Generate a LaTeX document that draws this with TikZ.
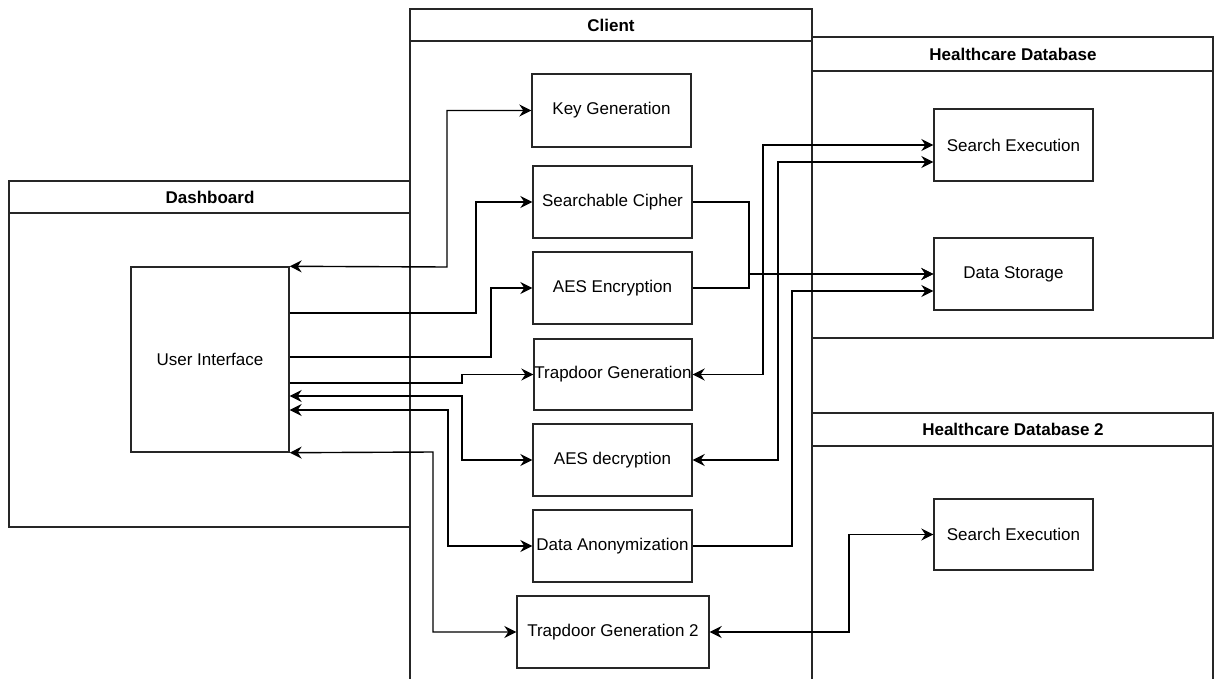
\documentclass[tikz,border=0pt]{standalone}
\usepackage{fontspec}
\setmainfont{Liberation Sans}
\usetikzlibrary{arrows.meta,calc}
\begin{document}
\begin{tikzpicture}[x=1pt,y=-1pt,
  line width=1.4pt,
  >={Stealth[length=12pt,width=12pt,inset=4pt]},
  lane/.style={draw=black!85,line width=1.4pt},
  box/.style={draw=black!85,line width=1.4pt,inner sep=0pt,font=\fontsize{17}{20}\selectfont},
  hdr/.style={font=\bfseries\fontsize{17}{20}\selectfont},
  conn/.style={draw=black,line width=1.4pt,->},
  bconn/.style={draw=black,line width=1.4pt,<->}
]
\useasboundingbox (0,0) rectangle (1214,679);
\begin{scope}
\clip (0,0) rectangle (1214,679);
% swimlanes
\draw[lane] (9,181) rectangle (410,527);
\draw[lane] (9,213) -- (410,213);
\node[hdr] (dashhdr) at (210,197) {Dashboard};

\draw[lane] (410,9) rectangle (812,720);
\draw[lane] (410,41) -- (812,41);
\node[hdr] (clienthdr) at (611,25) {Client};

\draw[lane] (812,37) rectangle (1213,338);
\draw[lane] (812,71) -- (1213,71);
\node[hdr] (hdhdr) at (1013,54) {Healthcare Database};

\draw[lane] (812,413) rectangle (1213,720);
\draw[lane] (812,446) -- (1213,446);
\node[hdr] (hd2hdr) at (1013,429.5) {Healthcare Database 2};
\end{scope}

% nodes
\node[box,minimum width=158pt,minimum height=185pt] (ui) at (210,359.5) {User Interface};
\node[box,minimum width=159pt,minimum height=73pt] (kg) at (611.5,110.5) {Key Generation};
\node[box,minimum width=159pt,minimum height=72pt] (sc) at (612.5,202) {Searchable Cipher};
\node[box,minimum width=159pt,minimum height=72pt] (aese) at (612.5,288) {AES Encryption};
\node[box,minimum width=158pt,minimum height=71pt] (tg) at (613,374.5) {Trapdoor Generation};
\node[box,minimum width=159pt,minimum height=72pt] (aesd) at (612.5,460) {AES decryption};
\node[box,minimum width=159pt,minimum height=72pt] (da) at (612.5,546) {Data Anonymization};
\node[box,minimum width=192pt,minimum height=72pt] (tg2) at (613,632) {Trapdoor Generation 2};
\node[box,minimum width=159pt,minimum height=72pt] (se1) at (1013.5,145) {Search Execution};
\node[box,minimum width=159pt,minimum height=72pt] (ds) at (1013.5,274) {Data Storage};
\node[box,minimum width=159pt,minimum height=71pt] (se2) at (1013.5,534.5) {Search Execution};

% connectors, left side
\draw[bconn] (ui.north east) -- (447,267) |- (kg.west);
\draw[conn] (ui.east |- 0,313) -- (476,313) |- (sc.west);
\draw[conn] (ui.east |- 0,357) -- (491,357) |- (aese.west);
\draw[conn] (ui.east |- 0,383) -- (462,383) |- (tg.west);
\draw[bconn] (ui.east |- 0,396) -- (462,396) |- (aesd.west);
\draw[bconn] (ui.east |- 0,410) -- (448,410) |- (da.west);
\draw[bconn] (ui.south east) -- (433,452) |- (tg2.west);

% connectors, right side
\draw[bconn] (tg.east) -- (763,374.5) |- (se1.west);
\draw[bconn] (aesd.east) -- (778,460) |- (se1.west |- 0,162);
\draw[conn] (sc.east) -- (749,202) |- (ds.west);
\draw[conn] (aese.east) -- (749,288) |- (ds.west);
\draw[conn] (da.east) -- (792,546) |- (ds.west |- 0,291);
\draw[bconn] (tg2.east) -- (849,632) |- (se2.west);
\end{tikzpicture}
\end{document}
